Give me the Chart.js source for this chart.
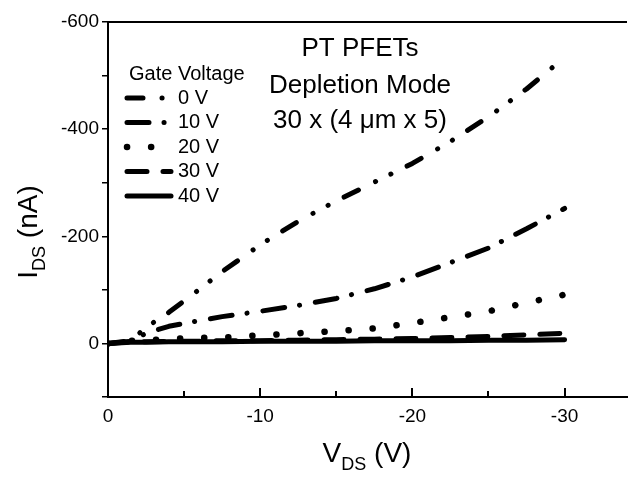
<!DOCTYPE html>
<html>
<head>
<meta charset="utf-8">
<script src="https://cdn.jsdelivr.net/npm/chart.js@4"></script>
<style>
  html, body { margin: 0; padding: 0; background: #fff; }
  #wrap { width: 628px; height: 477px; }
</style>
</head>
<body>
<div id="wrap"><canvas id="ivChart" width="628" height="477"></canvas></div>
<script>
// V_DS 讀取位置 (V)
const vds = [0, -1.5, -2.5, -4, -5.5, -7.5, -10, -12.5, -15, -17.5, -20, -22.5, -25, -27.5, -30];

// I_DS (nA)，各閘極電壓
const ids0V  = [0, -5, -30, -58, -90, -134, -184, -228, -266, -301, -336, -377, -423, -475, -534];
const ids10V = [0, -4, -19, -32, -40, -50, -60, -71, -84, -102, -124, -151, -178, -214, -252];
const ids20V = [0, -5, -6, -8, -10, -11, -15, -19, -23, -28, -38, -49, -60, -76, -91];
const ids30V = [0, -3, -3, -4, -4, -5, -5, -6, -7, -8, -9, -11, -13, -16, -19];
const ids40V = [0, -2, -2, -3, -3, -3, -4, -4, -4, -5, -5, -5, -6, -6, -7];

const gateLabels = ['0 V', '10 V', '20 V', '30 V', '40 V'];
const xTickValues = [0, -5, -10, -15, -20, -25, -30];
const xTickLabels = [0, -10, -20, -30];
const yTickLabels = [-600, -400, -200, 0];
const noteLines = ['PT PFETs', 'Depletion Mode', '30 x (4 \u03bcm x 5)'];

const FONT = '"Liberation Sans", Arial, sans-serif';

// 線型：0 V 為 長-點-點，10 V 為 長-點
const styles = [
    { borderDash: [16, 19, 0.1, 17, 0.1, 18], borderWidth: 5 },
    { borderDash: [22, 15, 0.1, 16], borderWidth: 5 },
    { borderDash: [0.1, 24], borderWidth: 6.5 },
    { borderDash: [20, 16], borderWidth: 5 },
    { borderDash: [], borderWidth: 5 }
];

function toPoints(ys) {
    return vds.map((x, i) => ({ x: x, y: ys[i] }));
}

const series = [ids0V, ids10V, ids20V, ids30V, ids40V];

const datasets = series.map((ys, i) => ({
    label: gateLabels[i],
    data: toPoints(ys),
    borderColor: '#000',
    backgroundColor: '#000',
    borderWidth: styles[i].borderWidth,
    borderDash: styles[i].borderDash,
    borderCapStyle: 'round',
    borderJoinStyle: 'round',
    pointRadius: 0,
    tension: 0,
    fill: false
}));

// 自訂繪製：上框、x內側刻度、圖例、註解、軸標題
const decorPlugin = {
    id: 'decor',
    afterDraw(chart) {
        const ctx = chart.ctx;
        const area = chart.chartArea;
        const xs = chart.scales.x;
        ctx.save();
        ctx.setLineDash([]);

        // 上框
        ctx.fillStyle = '#000';
        ctx.fillRect(area.left, area.top - 1, area.right - area.left, 2);

        // x 軸內側刻度
        const axisY = xs.top;
        xTickValues.forEach(v => {
            if (v === 0) return;
            const px = Math.round(xs.getPixelForValue(v));
            const len = v % 10 === 0 ? 9 : 6;
            ctx.fillRect(px - 1, axisY - len, 2, len);
        });

        // 圖例
        ctx.font = '20px ' + FONT;
        ctx.textBaseline = 'middle';
        ctx.textAlign = 'left';
        ctx.fillText('Gate Voltage', 129, 74);
        chart.data.datasets.forEach((ds, i) => {
            const y = 98 + i * 24.5;
            ctx.save();
            ctx.strokeStyle = '#000';
            ctx.lineWidth = ds.borderWidth;
            ctx.lineCap = 'round';
            ctx.setLineDash(ds.borderDash);
            ctx.beginPath();
            ctx.moveTo(127, y);
            ctx.lineTo(171, y);
            ctx.stroke();
            ctx.restore();
            ctx.fillText(ds.label, 178, y);
        });

        // 註解文字
        ctx.font = '26px ' + FONT;
        ctx.textAlign = 'center';
        ctx.textBaseline = 'alphabetic';
        const noteY = [56, 93, 128];
        noteLines.forEach((t, i) => ctx.fillText(t, 360, noteY[i]));

        // x 軸標題 V_DS (V)
        drawSubTitle(ctx, 'V', 'DS', ' (V)', 367, 462);
        // y 軸標題 I_DS (nA)
        ctx.save();
        ctx.translate(37, 232);
        ctx.rotate(-Math.PI / 2);
        drawSubTitle(ctx, 'I', 'DS', ' (nA)', 0, 0);
        ctx.restore();

        ctx.restore();
    }
};

function drawSubTitle(ctx, main, sub, rest, cx, baseY) {
    const big = '28px ' + FONT;
    const small = '18px ' + FONT;
    ctx.textAlign = 'left';
    ctx.textBaseline = 'alphabetic';
    ctx.font = big;
    const w1 = ctx.measureText(main).width;
    const w3 = ctx.measureText(rest).width;
    ctx.font = small;
    const w2 = ctx.measureText(sub).width;
    let x = cx - (w1 + w2 + w3) / 2;
    ctx.font = big;
    ctx.fillText(main, x, baseY);
    x += w1;
    ctx.font = small;
    ctx.fillText(sub, x, baseY + 8);
    x += w2;
    ctx.font = big;
    ctx.fillText(rest, x, baseY);
}

const ctx = document.getElementById('ivChart').getContext('2d');
window.ivChart = new Chart(ctx, {
    type: 'line',
    data: { datasets: datasets },
    options: {
        responsive: false,
        animation: false,
        devicePixelRatio: 1,
        layout: { padding: { left: 0, right: 1, top: 22, bottom: 0 } },
        plugins: {
            legend: { display: false },
            tooltip: { enabled: false }
        },
        scales: {
            x: {
                type: 'linear',
                reverse: true,
                min: -34.1,
                max: 0,
                afterFit: s => { s.height = 80; },
                afterBuildTicks: s => { s.ticks = xTickValues.map(v => ({ value: v })); },
                grid: { display: false, drawTicks: false },
                border: { display: true, color: '#000', width: 2 },
                ticks: {
                    autoSkip: false,
                    maxRotation: 0,
                    padding: 8,
                    color: '#000',
                    font: { family: FONT, size: 19 },
                    callback: v => xTickLabels.includes(v) ? String(v) : ''
                }
            },
            y: {
                type: 'linear',
                reverse: true,
                min: -600,
                max: 100,
                afterFit: s => { s.width = 108; },
                grid: {
                    display: true,
                    drawOnChartArea: false,
                    drawTicks: true,
                    tickLength: 6,
                    color: '#000',
                    lineWidth: 1.5
                },
                border: { display: true, color: '#000', width: 2 },
                ticks: {
                    stepSize: 100,
                    padding: 3,
                    color: '#000',
                    font: { family: FONT, size: 19 },
                    callback: v => yTickLabels.includes(v) ? String(v) : ''
                }
            }
        }
    },
    plugins: [decorPlugin]
});
</script>
</body>
</html>
